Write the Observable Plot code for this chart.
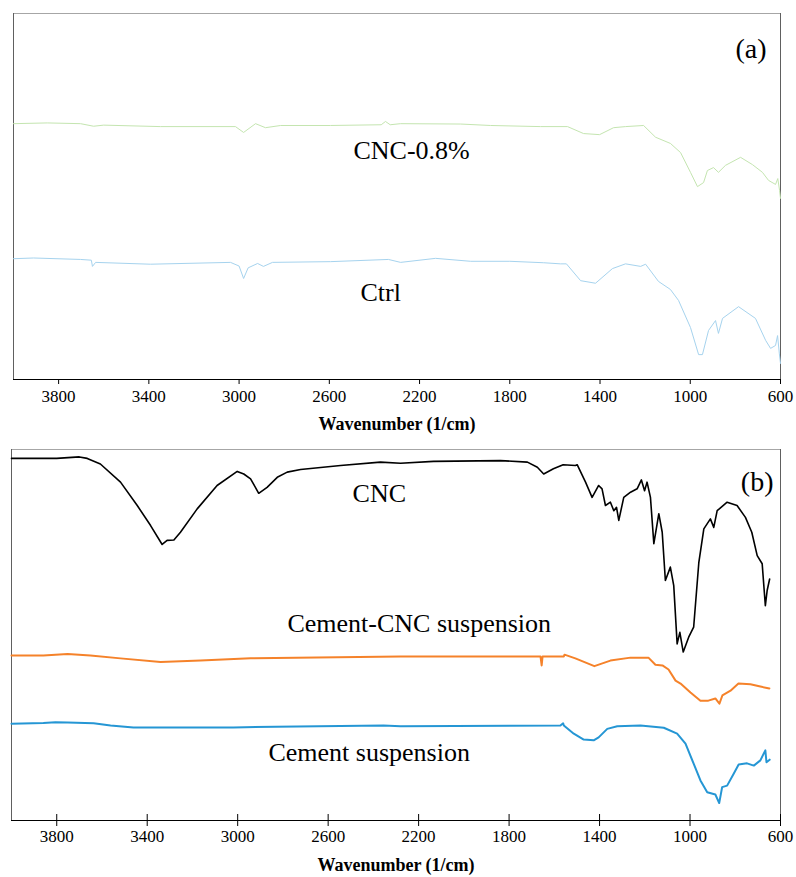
<!DOCTYPE html>
<html><head><meta charset="utf-8">
<script src="https://cdn.jsdelivr.net/npm/d3@7"></script>
<script src="https://cdn.jsdelivr.net/npm/@observablehq/plot@0.6"></script>
<style>
body{margin:0;background:#fff;}
#chart{width:796px;}
#chart svg{display:block;}
#chart svg text{font-family:'Liberation Serif','Times New Roman',serif;}
</style></head><body><div id="chart"></div>
<script>
// ---- data (wavenumber 1/cm, transmittance a.u.) ----
const xTicks = [3800, 3400, 3000, 2600, 2200, 1800, 1400, 1000, 600];
const xDomain = [4000, 600];
const xLabel = "Wavenumber (1/cm)";
const panelTags = ["(a)", "(b)"];

// panel (a)
const cnc08 = [[4000,69.9],[3850,70.1],[3703,69.9],[3645,69.2],[3600,69.5],[3348,69.1],[3016,69.1],[2980,67.5],[2927,69.9],[2883,68.8],[2816,69.4],[2595,69.4],[2370,69.6],[2351,70.5],[2330,69.6],[2284,69.9],[2018,69.8],[1885,69.4],[1664,69.1],[1544,69.1],[1473,67.2],[1402,66.9],[1340,68.8],[1287,69.1],[1207,69.4],[1154,66.2],[1088,64.5],[1043,62.0],[999,56.6],[968,52.7],[941,53.8],[924,57.1],[897,57.9],[875,56.6],[844,58.5],[777,60.7],[724,58.7],[680,56.6],[653,54.4],[622,53.3],[612,54.9],[604,51.6],[600,49.5]];
const ctrl = [[4000,33.0],[3911,33.2],[3703,32.8],[3655,32.6],[3650,30.9],[3636,32.0],[3393,31.5],[3038,32.0],[3000,31.0],[2980,27.6],[2960,30.5],[2918,31.7],[2892,30.9],[2852,32.0],[2595,32.2],[2338,32.8],[2284,32.0],[2129,33.1],[1974,32.3],[1800,32.3],[1650,31.9],[1575,31.6],[1549,31.6],[1486,27.0],[1420,26.3],[1345,30.3],[1287,31.6],[1220,30.9],[1198,31.5],[1141,26.8],[1088,24.6],[1052,21.6],[999,14.2],[963,6.8],[946,6.8],[919,13.4],[888,16.1],[875,12.6],[857,16.7],[786,19.9],[711,16.7],[666,10.7],[644,8.5],[622,9.3],[613,12.0],[605,7.0],[600,4.4]];
const labelsA = [{text:"CNC-0.8%", wn:2493, t:62.6}, {text:"Ctrl", wn:2462, t:23.6}];

// panel (b)
const cnc = [[4000,97.6],[3800,97.6],[3700,98.0],[3665,97.6],[3607,96.1],[3518,91.2],[3444,84.9],[3385,79.5],[3334,74.4],[3312,75.5],[3282,75.6],[3253,77.7],[3179,84.0],[3091,90.3],[3002,94.1],[2973,93.4],[2943,92.1],[2907,88.2],[2870,89.8],[2825,92.5],[2781,93.9],[2722,94.6],[2545,95.7],[2369,96.6],[2280,96.3],[2134,96.8],[1838,97.0],[1719,96.6],[1675,95.2],[1647,93.4],[1604,94.8],[1561,95.9],[1507,95.7],[1499,95.9],[1462,91.2],[1433,87.1],[1404,90.3],[1389,89.4],[1374,84.9],[1352,85.8],[1337,83.5],[1325,84.4],[1315,80.9],[1293,87.1],[1263,88.5],[1234,89.4],[1215,91.8],[1201,88.9],[1190,91.2],[1175,87.1],[1160,74.6],[1138,82.7],[1123,77.7],[1109,64.7],[1087,68.3],[1072,63.3],[1057,47.6],[1045,50.7],[1030,45.4],[1006,49.4],[984,52.1],[961,69.6],[939,78.6],[910,81.3],[895,79.0],[880,83.5],[836,85.8],[792,84.9],[755,81.7],[727,77.7],[703,71.4],[681,69.2],[667,57.9],[659,62.0],[648,65.1]];
const cementCnc = [[4000,44.5],[3859,44.5],[3752,44.9],[3651,44.5],[3518,43.7],[3341,42.7],[3164,43.1],[2943,43.7],[2280,44.2],[1838,44.2],[1661,44.2],[1656,41.8],[1652,44.2],[1558,44.2],[1555,44.7],[1507,43.7],[1423,41.6],[1352,43.1],[1263,43.9],[1184,43.9],[1153,42.0],[1122,41.8],[1095,40.7],[1064,37.7],[1042,36.9],[998,34.5],[954,32.3],[919,32.3],[888,32.9],[870,31.5],[857,33.7],[821,35.0],[786,36.9],[733,36.7],[689,36.1],[649,35.6]];
const cement = [[4000,26.1],[3859,26.3],[3806,26.5],[3752,26.4],[3637,26.2],[3562,25.6],[3461,25.1],[3019,25.1],[2355,25.6],[2280,25.4],[1573,25.6],[1561,26.2],[1558,25.6],[1514,23.4],[1470,21.8],[1426,21.6],[1404,22.4],[1366,24.7],[1322,25.4],[1219,25.6],[1116,25.0],[1057,23.4],[1020,20.7],[984,15.3],[954,10.8],[924,7.6],[888,7.0],[871,4.7],[858,9.0],[836,9.4],[807,12.6],[785,15.1],[748,15.4],[718,14.8],[689,16.2],[667,18.9],[662,15.7],[648,16.4]];
const labelsB = [{text:"CNC", wn:2492, t:88.2}, {text:"Cement-CNC suspension", wn:2780, t:53.0}, {text:"Cement suspension", wn:2864, t:18.4}];

const font = "Liberation Serif";
const rows = arr => arr.map(([wn, t]) => ({wn, t}));

const frameMarks = () => [
  Plot.ruleY([100], {stroke: "#a6a6a6"}),
  Plot.ruleX(xDomain, {stroke: "#606060"})
];
const tickLabels = dy => Plot.text(xTicks, {x: d => d, text: d => String(d), frameAnchor: "bottom", dy, fontSize: 17, fontFamily: font, fill: "#000"});

const a = Plot.plot({
  width: 796, height: 440, marginTop: 13, marginBottom: 61, marginLeft: 13, marginRight: 16,
  style: {fontFamily: font, background: "#fff", color: "#000", fontSize: "17px"},
  x: {domain: xDomain},
  y: {domain: [0, 100], axis: null},
  marks: [
    ...frameMarks(),
    Plot.line(rows(cnc08), {x: "wn", y: "t", stroke: "#c4e5b0", strokeWidth: 1}),
    Plot.line(rows(ctrl), {x: "wn", y: "t", stroke: "#a6d3ee", strokeWidth: 1}),
    Plot.ruleY([0], {stroke: "#000"}),
    Plot.axisX({ticks: xTicks, tickSize: 5, fill: "none", label: null}),
    tickLabels(22),
    Plot.text([xLabel], {text: d => d, frameAnchor: "bottom", dy: 50, fontWeight: "bold", fontSize: 18, fontFamily: font}),
    Plot.text(labelsA, {x: "wn", y: "t", text: "text", textAnchor: "start", fontSize: 26, fontFamily: font}),
    Plot.text([panelTags[0]], {text: d => d, frameAnchor: "top-right", dx: -14, dy: 25, textAnchor: "end", fontSize: 28, fontFamily: font})
  ]
});

const b = Plot.plot({
  width: 796, height: 437, marginTop: 9, marginBottom: 57, marginLeft: 11, marginRight: 16,
  style: {fontFamily: font, background: "#fff", color: "#000", fontSize: "17px"},
  x: {domain: xDomain},
  y: {domain: [0, 100], axis: null},
  marks: [
    ...frameMarks(),
    Plot.line(rows(cnc), {x: "wn", y: "t", stroke: "#000", strokeWidth: 1.6}),
    Plot.line(rows(cementCnc), {x: "wn", y: "t", stroke: "#f5822a", strokeWidth: 2}),
    Plot.line(rows(cement), {x: "wn", y: "t", stroke: "#2596d4", strokeWidth: 2}),
    Plot.ruleY([0], {stroke: "#000"}),
    Plot.axisX({ticks: xTicks, tickSize: 12, dy: -6, fill: "none", label: null}),
    tickLabels(21.5),
    Plot.text([xLabel], {text: d => d, frameAnchor: "bottom", dy: 50, fontWeight: "bold", fontSize: 18, fontFamily: font}),
    Plot.text(labelsB, {x: "wn", y: "t", text: "text", textAnchor: "start", fontSize: 26, fontFamily: font}),
    Plot.text([panelTags[1]], {text: d => d, frameAnchor: "top-right", dx: -7, dy: 22, textAnchor: "end", fontSize: 28, fontFamily: font})
  ]
});

document.getElementById("chart").append(a, b);
</script></body></html>
